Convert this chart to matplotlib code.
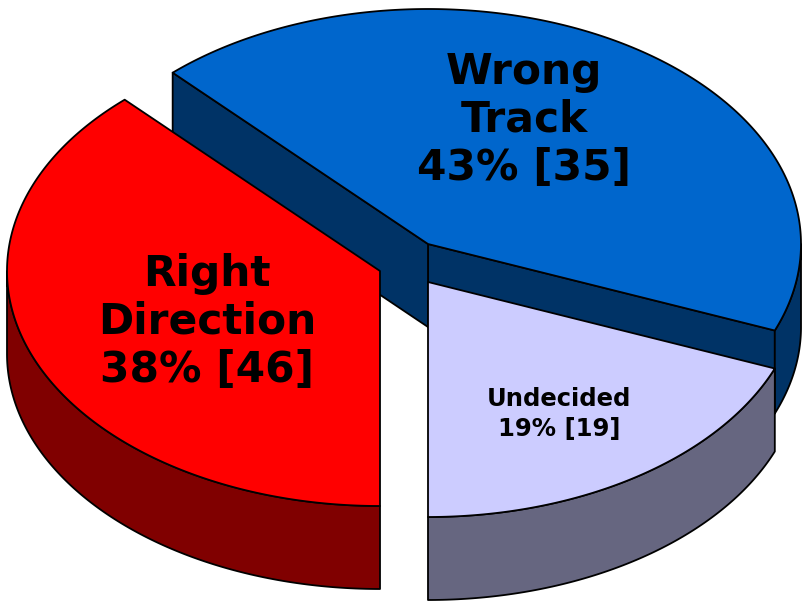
import numpy as np
import matplotlib.pyplot as plt
from matplotlib.patches import Polygon

# slices, counter-clockwise starting from the front (bottom)
labels = ['Undecided', 'Wrong\nTrack', 'Right\nDirection']
percents = [19, 43, 38]
counts = [19, 35, 46]
top_colors = ['#CCCCFF', '#0066CC', '#FF0000']
side_colors = ['#666680', '#003366', '#800000']

# layout (pixel coordinates)
offsets = [(0, 0), (0, -38), (-48, -11)]
label_pos = [(559, 414), (524, 120), (207, 322)]
label_size = [17.5, 30.5, 30.5]
label_spacing = [1.3, 1.18, 1.18]
draw_order = [1, 0, 2]
cx, cy = 428, 282
rx, ry = 373, 235
depth = 83


def rim(x0, y0, t, dz=0):
    t = np.radians(t)
    return np.column_stack([x0 + rx * np.cos(t), y0 - ry * np.sin(t) + dz])


def add_poly(ax, pts, color):
    ax.add_patch(Polygon(pts, closed=True, facecolor=color, edgecolor='black',
                         linewidth=1.3, joinstyle='round'))


fig = plt.figure(figsize=(8.04, 6.03), dpi=100)
ax = fig.add_axes([0, 0, 1, 1])
ax.set_xlim(0, 804)
ax.set_ylim(603, 0)
ax.axis('off')

starts = -90 + np.concatenate([[0], np.cumsum(percents)[:-1]]) * 3.6
ends = starts + np.array(percents) * 3.6

for i in draw_order:
    t0, t1 = starts[i], ends[i]
    x0, y0 = cx + offsets[i][0], cy + offsets[i][1]
    apex = np.array([[x0, y0]])

    # cut faces that turn toward the viewer
    for t, visible in ((t0, np.cos(np.radians(t0)) > 1e-6),
                       (t1, np.cos(np.radians(t1)) < -1e-6)):
        if visible:
            p = rim(x0, y0, [t])[0]
            face = [(x0, y0), tuple(p), (p[0], p[1] + depth), (x0, y0 + depth)]
            add_poly(ax, face, side_colors[i])

    # outer wall, front half only
    for lo, hi in ((-180, 0), (180, 360)):
        a, b = max(t0, lo), min(t1, hi)
        if b > a:
            ts = np.linspace(a, b, 120)
            wall = np.vstack([rim(x0, y0, ts), rim(x0, y0, ts[::-1], depth)])
            add_poly(ax, wall, side_colors[i])

    top = np.vstack([apex, rim(x0, y0, np.linspace(t0, t1, 240))])
    add_poly(ax, top, top_colors[i])

    ax.text(label_pos[i][0], label_pos[i][1],
            f'{labels[i]}\n{percents[i]}% [{counts[i]}]',
            ha='center', va='center', fontsize=label_size[i],
            fontweight='bold', linespacing=label_spacing[i], color='black')

fig.savefig('out.png', dpi=100)
